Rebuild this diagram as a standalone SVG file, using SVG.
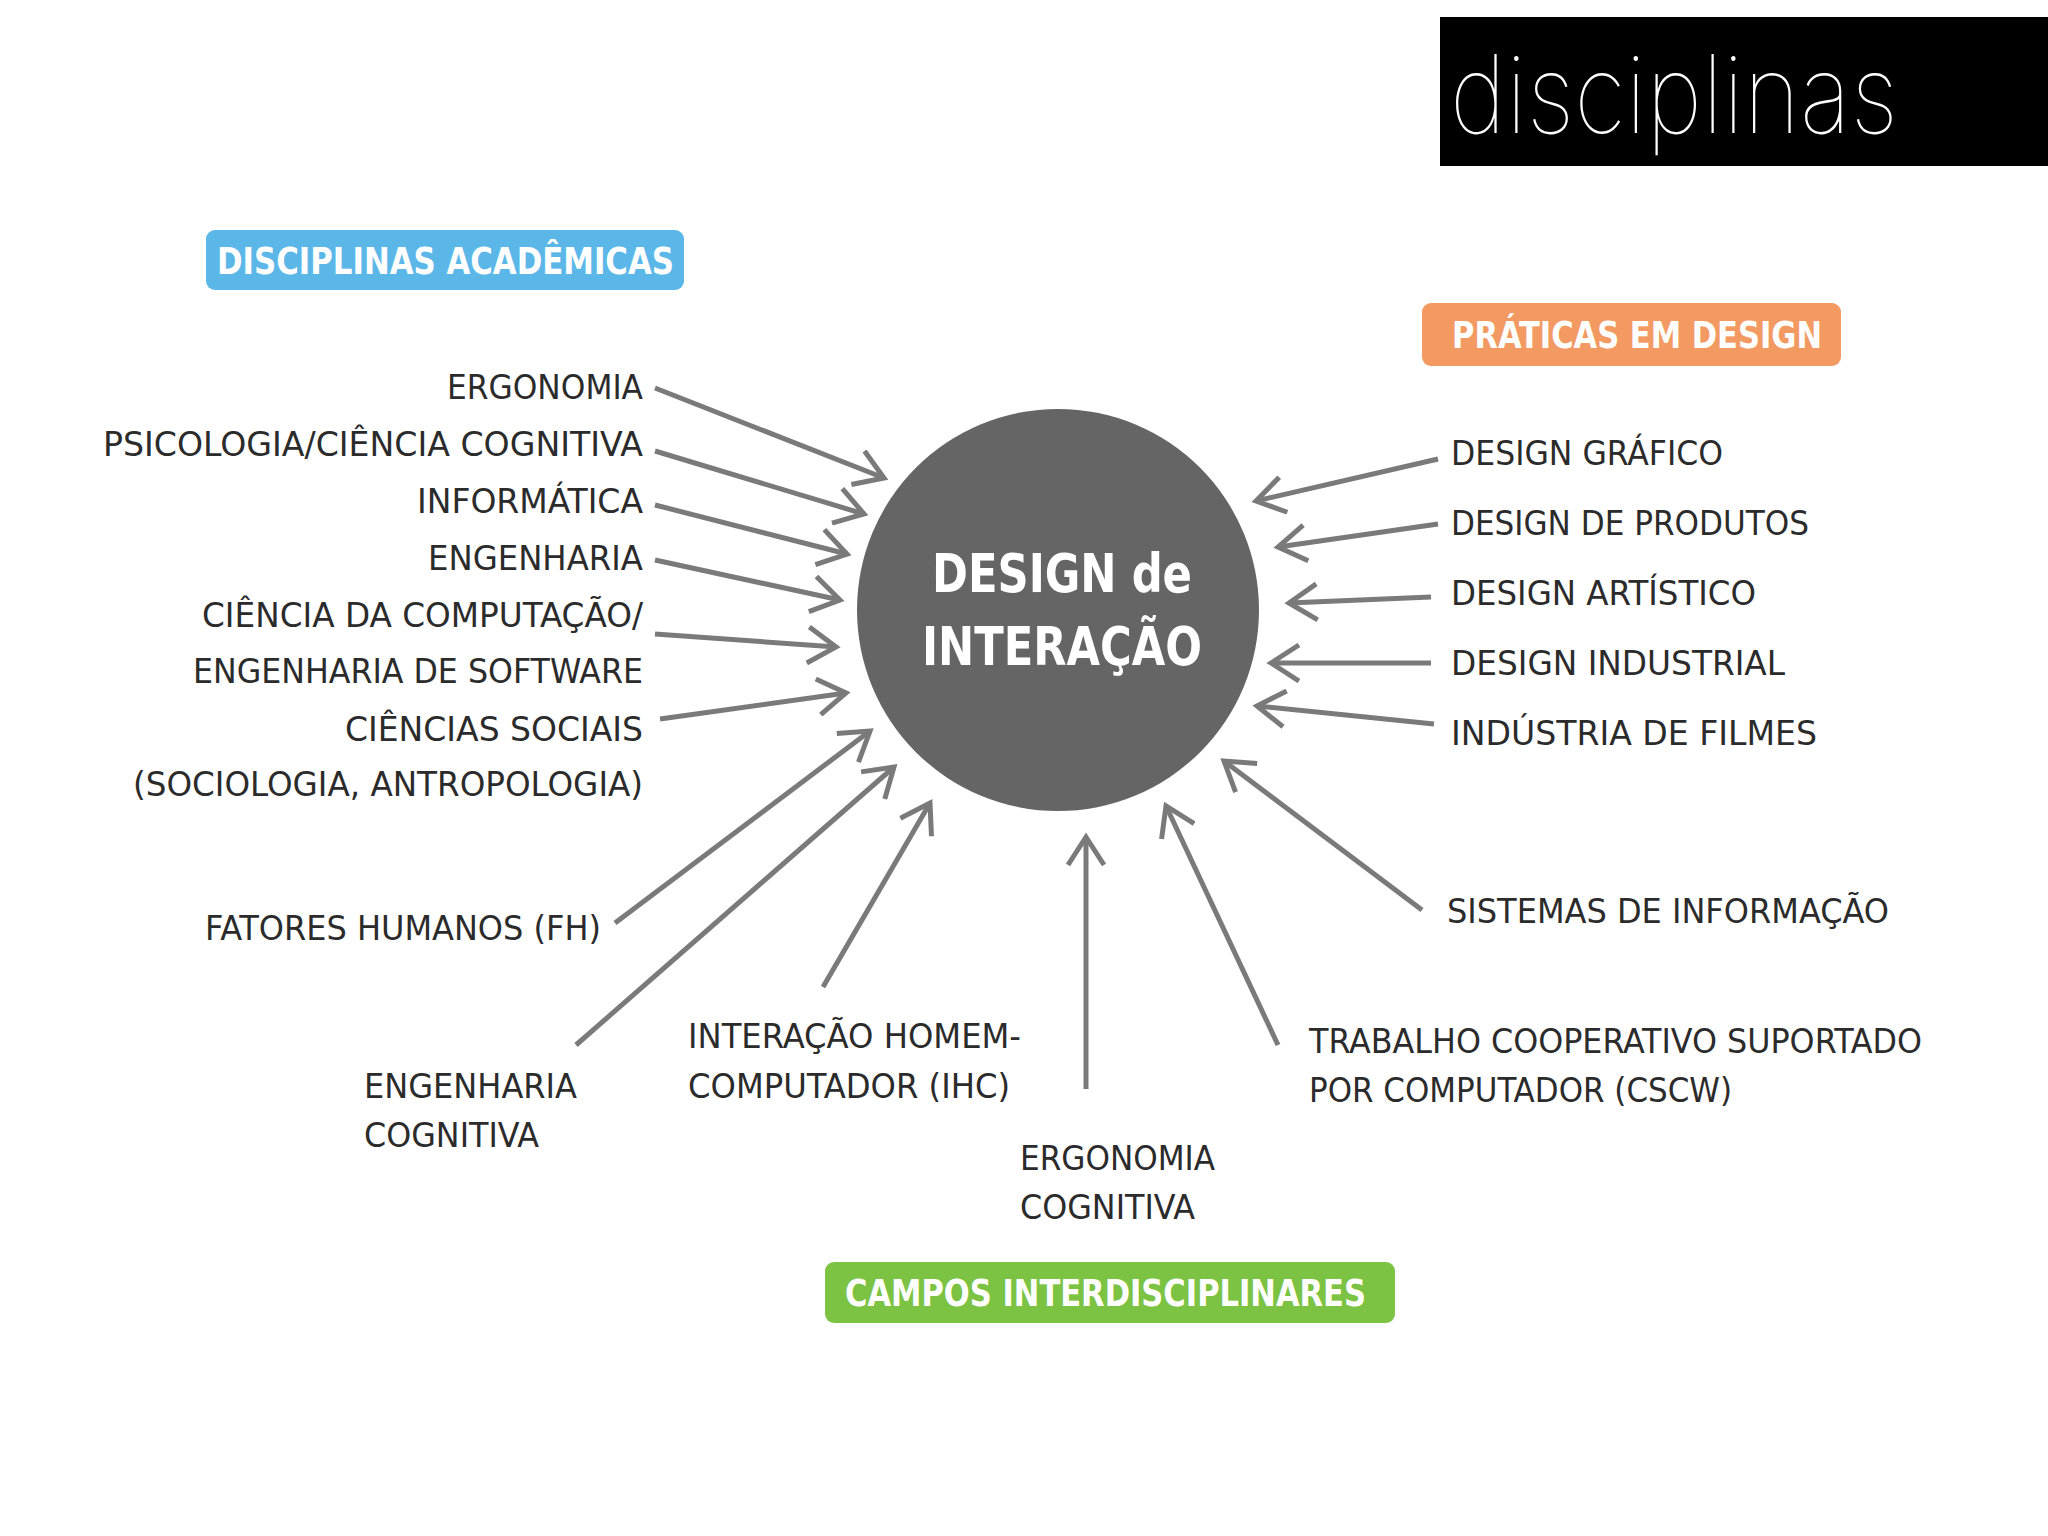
<svg xmlns="http://www.w3.org/2000/svg" width="2048" height="1536" viewBox="0 0 2048 1536">
<defs>
<style>
.lbl{font-family:"Liberation Sans Narrow","DejaVu Sans Condensed","Liberation Sans",sans-serif;font-size:34px;fill:#2b2b2b;}
.tag{font-family:"Liberation Sans Narrow","DejaVu Sans Condensed","Liberation Sans",sans-serif;font-size:37px;font-weight:bold;fill:#ffffff;}
.ctr{font-family:"Liberation Sans Narrow","DejaVu Sans Condensed","Liberation Sans",sans-serif;font-size:53px;font-weight:bold;fill:#ffffff;text-anchor:middle;}
.arr{stroke:#7a7a7a;stroke-width:5;fill:none;marker-end:url(#head);}
</style>
<marker id="head" markerUnits="userSpaceOnUse" markerWidth="40" markerHeight="40" viewBox="0 0 40 40" refX="32" refY="20" orient="auto">
<path d="M4,2 L32,20 L4,38" fill="none" stroke="#7a7a7a" stroke-width="5"/>
</marker>
</defs>
<rect x="0" y="0" width="2048" height="1536" fill="#ffffff"/>

<g id="title">
<rect x="1440" y="17" width="608" height="149" fill="#000000"/>
<text x="1450" y="133" font-family="Inter,Lato,'Noto Sans',sans-serif" font-weight="100" font-size="108" fill="#ffffff" textLength="448" lengthAdjust="spacingAndGlyphs">disciplinas</text>
</g>

<g id="tag-academicas">
<rect x="206" y="230" width="478" height="60" rx="9" fill="#5bb7e8"/>
<text class="tag" x="217" y="274" textLength="457" lengthAdjust="spacingAndGlyphs">DISCIPLINAS ACADÊMICAS</text>
</g>
<g id="tag-praticas">
<rect x="1422" y="303" width="419" height="63" rx="9" fill="#f29a62"/>
<text class="tag" x="1452" y="348" textLength="370" lengthAdjust="spacingAndGlyphs">PRÁTICAS EM DESIGN</text>
</g>
<g id="tag-campos">
<rect x="825" y="1262" width="570" height="61" rx="9" fill="#7cc243"/>
<text class="tag" x="845" y="1306" textLength="521" lengthAdjust="spacingAndGlyphs">CAMPOS INTERDISCIPLINARES</text>
</g>

<g id="center">
<circle cx="1058" cy="610" r="201" fill="#656565"/>
<text class="ctr" x="1062" y="592" textLength="260" lengthAdjust="spacingAndGlyphs">DESIGN de</text>
<text class="ctr" x="1062" y="665" textLength="280" lengthAdjust="spacingAndGlyphs">INTERAÇÃO</text>
</g>

<g id="connectors">
<line class="arr" x1="655" y1="388" x2="884" y2="478"/>
<line class="arr" x1="655" y1="451" x2="864" y2="514"/>
<line class="arr" x1="655" y1="505" x2="847" y2="554"/>
<line class="arr" x1="655" y1="560" x2="840" y2="600"/>
<line class="arr" x1="655" y1="634" x2="836" y2="647"/>
<line class="arr" x1="660" y1="719" x2="846" y2="693"/>
<line class="arr" x1="615" y1="923" x2="870" y2="731"/>
<line class="arr" x1="576" y1="1045" x2="894" y2="767"/>
<line class="arr" x1="823" y1="987" x2="930" y2="803"/>
<line class="arr" x1="1086" y1="1089" x2="1086" y2="837"/>
<line class="arr" x1="1278" y1="1045" x2="1166" y2="806"/>
<line class="arr" x1="1422" y1="910" x2="1224" y2="761"/>
<line class="arr" x1="1438" y1="459" x2="1256" y2="501"/>
<line class="arr" x1="1438" y1="524" x2="1278" y2="547"/>
<line class="arr" x1="1431" y1="597" x2="1289" y2="603"/>
<line class="arr" x1="1431" y1="663" x2="1271" y2="663"/>
<line class="arr" x1="1434" y1="724" x2="1257" y2="706"/>
</g>

<g id="n-ergonomia"><text class="lbl" x="643" y="399" text-anchor="end" textLength="196" lengthAdjust="spacingAndGlyphs">ERGONOMIA</text></g>
<g id="n-psicologia"><text class="lbl" x="643" y="456" text-anchor="end" textLength="540" lengthAdjust="spacingAndGlyphs">PSICOLOGIA/CIÊNCIA COGNITIVA</text></g>
<g id="n-informatica"><text class="lbl" x="643" y="513" text-anchor="end" textLength="226" lengthAdjust="spacingAndGlyphs">INFORMÁTICA</text></g>
<g id="n-engenharia"><text class="lbl" x="643" y="570" text-anchor="end" textLength="215" lengthAdjust="spacingAndGlyphs">ENGENHARIA</text></g>
<g id="n-computacao">
<text class="lbl" x="643" y="627" text-anchor="end" textLength="441" lengthAdjust="spacingAndGlyphs">CIÊNCIA DA COMPUTAÇÃO/</text>
<text class="lbl" x="643" y="683" text-anchor="end" textLength="450" lengthAdjust="spacingAndGlyphs">ENGENHARIA DE SOFTWARE</text>
</g>
<g id="n-sociais">
<text class="lbl" x="643" y="741" text-anchor="end" textLength="298" lengthAdjust="spacingAndGlyphs">CIÊNCIAS SOCIAIS</text>
<text class="lbl" x="643" y="796" text-anchor="end" textLength="510" lengthAdjust="spacingAndGlyphs">(SOCIOLOGIA, ANTROPOLOGIA)</text>
</g>
<g id="n-fatores"><text class="lbl" x="205" y="940" textLength="396" lengthAdjust="spacingAndGlyphs">FATORES HUMANOS (FH)</text></g>
<g id="n-eng-cognitiva">
<text class="lbl" x="364" y="1098" textLength="213" lengthAdjust="spacingAndGlyphs">ENGENHARIA</text>
<text class="lbl" x="364" y="1147" textLength="175" lengthAdjust="spacingAndGlyphs">COGNITIVA</text>
</g>
<g id="n-ihc">
<text class="lbl" x="688" y="1048" textLength="333" lengthAdjust="spacingAndGlyphs">INTERAÇÃO HOMEM-</text>
<text class="lbl" x="688" y="1098" textLength="322" lengthAdjust="spacingAndGlyphs">COMPUTADOR (IHC)</text>
</g>
<g id="n-erg-cognitiva">
<text class="lbl" x="1020" y="1170" textLength="195" lengthAdjust="spacingAndGlyphs">ERGONOMIA</text>
<text class="lbl" x="1020" y="1219" textLength="175" lengthAdjust="spacingAndGlyphs">COGNITIVA</text>
</g>
<g id="n-cscw">
<text class="lbl" x="1309" y="1053" textLength="613" lengthAdjust="spacingAndGlyphs">TRABALHO COOPERATIVO SUPORTADO</text>
<text class="lbl" x="1309" y="1102" textLength="423" lengthAdjust="spacingAndGlyphs">POR COMPUTADOR (CSCW)</text>
</g>
<g id="n-sistemas"><text class="lbl" x="1447" y="923" textLength="442" lengthAdjust="spacingAndGlyphs">SISTEMAS DE INFORMAÇÃO</text></g>
<g id="n-grafico"><text class="lbl" x="1451" y="465" textLength="272" lengthAdjust="spacingAndGlyphs">DESIGN GRÁFICO</text></g>
<g id="n-produtos"><text class="lbl" x="1451" y="535" textLength="358" lengthAdjust="spacingAndGlyphs">DESIGN DE PRODUTOS</text></g>
<g id="n-artistico"><text class="lbl" x="1451" y="605" textLength="305" lengthAdjust="spacingAndGlyphs">DESIGN ARTÍSTICO</text></g>
<g id="n-industrial"><text class="lbl" x="1451" y="675" textLength="334" lengthAdjust="spacingAndGlyphs">DESIGN INDUSTRIAL</text></g>
<g id="n-filmes"><text class="lbl" x="1451" y="745" textLength="366" lengthAdjust="spacingAndGlyphs">INDÚSTRIA DE FILMES</text></g>
</svg>
